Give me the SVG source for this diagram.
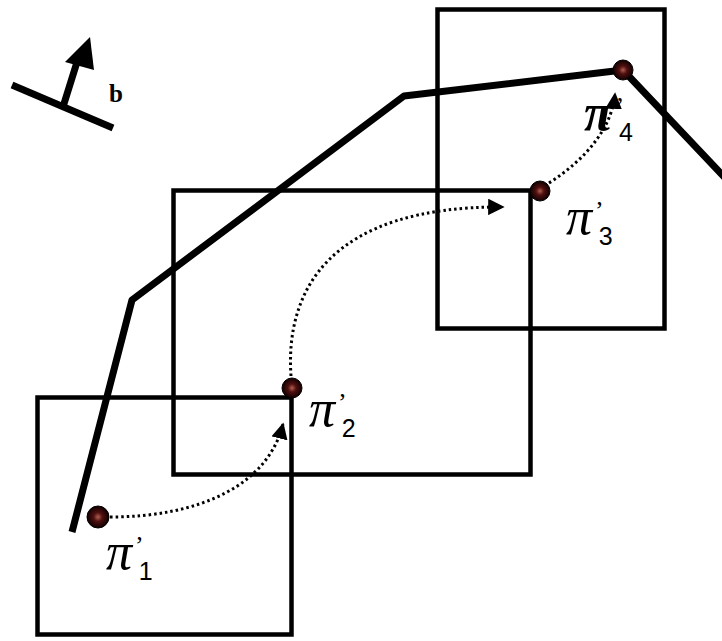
<svg xmlns="http://www.w3.org/2000/svg" width="722" height="641" viewBox="0 0 722 641">
<style>
.box{fill:none;stroke:#000;stroke-width:4.5}
.thick{fill:none;stroke:#000;stroke-width:7;stroke-linejoin:round}
.dot{fill:none;stroke:#000;stroke-width:3;stroke-dasharray:2.5 3}
.lbl{font-family:"Liberation Serif",serif;fill:#000}
.pi{font-style:italic;font-size:52px}
.pr{font-size:26px}
.sub{font-family:"Liberation Sans",sans-serif;font-size:25px}
.pt{fill:url(#g);stroke:#000;stroke-width:1}
</style>
<defs>
<radialGradient id="g">
<stop offset="0" stop-color="#b06050"/>
<stop offset="0.4" stop-color="#501010"/>
<stop offset="1" stop-color="#100000"/>
</radialGradient>
<marker id="ah" viewBox="0 0 10 10" refX="9" refY="5" markerWidth="5.5" markerHeight="5.5" orient="auto" markerUnits="strokeWidth">
<path d="M0,0 L10,5 L0,10 Z" fill="#000"/>
</marker>
</defs>
<rect width="722" height="641" fill="#fff"/>
<g id="boxes">
<rect id="box1" class="box" x="37.5" y="397.5" width="254" height="237"/>
<rect id="box2" class="box" x="173.5" y="190.5" width="357" height="284"/>
<rect id="box3" class="box" x="437.5" y="9.5" width="227" height="319"/>
</g>
<g id="path">
<polyline class="thick" points="72,532 132,300 404,96 623,70 730,183"/>
</g>
<g id="b-symbol">
<line x1="12" y1="85" x2="113" y2="128" stroke="#000" stroke-width="7"/>
<line x1="63" y1="107" x2="77" y2="62" stroke="#000" stroke-width="7"/>
<polygon points="90,37 65,62 94,70" fill="#000"/>
<text class="lbl" x="109" y="102" font-weight="bold" font-size="25">b</text>
</g>
<g id="connectors">
<path class="dot" d="M110,517 C200,517 268,485 283,424" marker-end="url(#ah)"/>
<path class="dot" d="M291,376 C285,290 330,206 503,207" marker-end="url(#ah)"/>
<path class="dot" d="M549,183 C585,160 612,128 615,94" marker-end="url(#ah)"/>
</g>
<g id="p1">
<circle class="pt" cx="98" cy="517" r="11"/>
<text class="lbl" x="106" y="569"><tspan class="pi">π</tspan><tspan class="pr" dx="3" dy="-15">’</tspan><tspan class="sub" dx="-5" dy="26">1</tspan></text>
</g>
<g id="p2">
<circle class="pt" cx="292" cy="388" r="10"/>
<text class="lbl" x="309" y="426"><tspan class="pi">π</tspan><tspan class="pr" dx="3" dy="-15">’</tspan><tspan class="sub" dx="-5" dy="26">2</tspan></text>
</g>
<g id="p3">
<circle class="pt" cx="540" cy="191" r="10"/>
<text class="lbl" x="566" y="234"><tspan class="pi">π</tspan><tspan class="pr" dx="3" dy="-15">’</tspan><tspan class="sub" dx="-5" dy="26">3</tspan></text>
</g>
<g id="p4">
<circle class="pt" cx="623" cy="70" r="10"/>
<text class="lbl" x="584" y="130"><tspan class="pi" font-weight="bold">π</tspan><tspan class="pr" dx="3" dy="-15">’</tspan><tspan class="sub" dx="-5" dy="26">4</tspan></text>
</g>
</svg>
